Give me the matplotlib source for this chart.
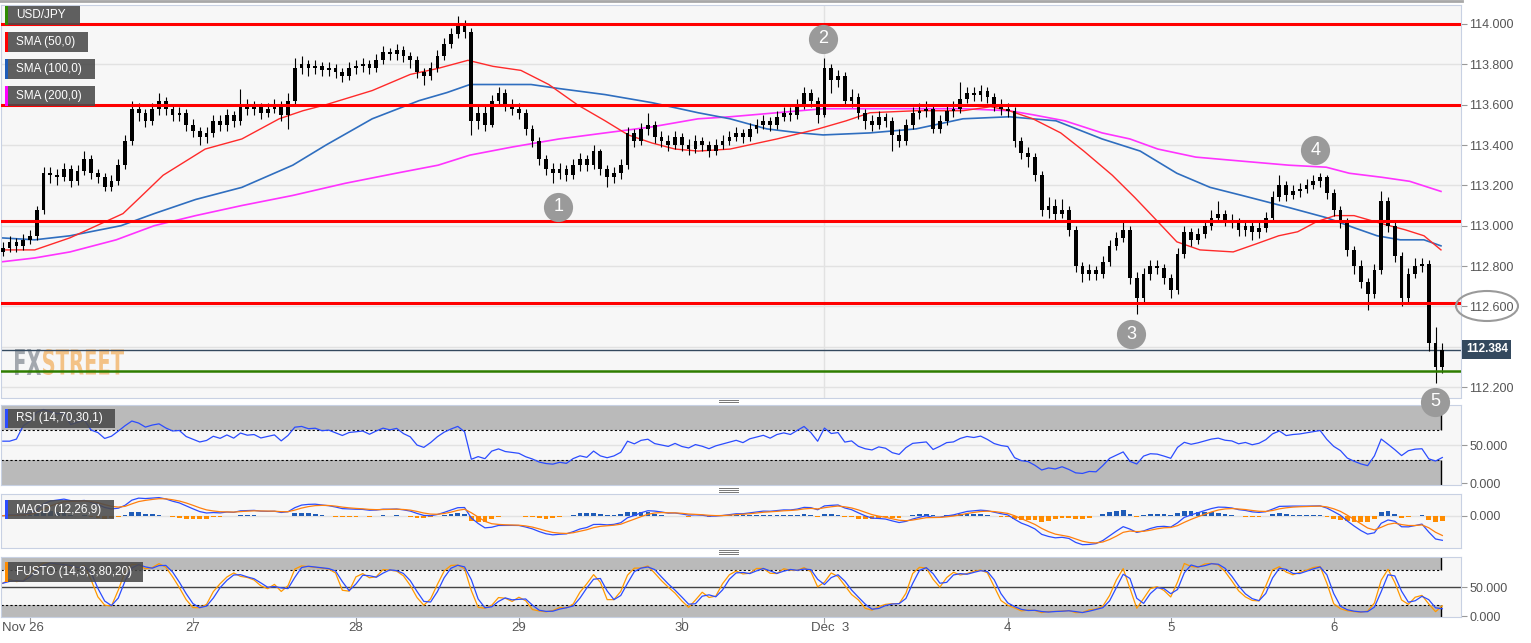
import matplotlib
matplotlib.use('Agg')
import matplotlib.pyplot as plt
import numpy as np
import pandas as pd
from matplotlib.patches import Rectangle, Ellipse, PathPatch
from matplotlib.textpath import TextPath
from matplotlib.font_manager import FontProperties
from matplotlib.transforms import Affine2D
from matplotlib.lines import Line2D

plt.rcParams['font.family'] = ['Liberation Sans', 'DejaVu Sans']

# hourly USD/JPY candles, Nov 25 20:00 -> Dec 6
first_open = 112.87
closes = [112.89, 112.92, 112.90, 112.93, 112.95, 113.08, 113.26, 113.25, 113.24, 113.28,
          113.22, 113.27, 113.33, 113.26, 113.24, 113.19, 113.22, 113.30, 113.42, 113.58,
          113.56, 113.52, 113.58, 113.62, 113.58, 113.55, 113.56, 113.50, 113.47, 113.44,
          113.46, 113.52, 113.50, 113.55, 113.52, 113.60, 113.58, 113.59, 113.56, 113.58,
          113.60, 113.55, 113.62, 113.78, 113.80, 113.78, 113.79, 113.77, 113.78, 113.76,
          113.74, 113.78, 113.79, 113.80, 113.78, 113.82, 113.86, 113.85, 113.87, 113.84,
          113.82, 113.76, 113.74, 113.78, 113.84, 113.90, 113.95, 114.00, 113.96, 113.52,
          113.56, 113.50, 113.62, 113.66, 113.60, 113.58, 113.56, 113.48, 113.42, 113.33,
          113.28, 113.26, 113.28, 113.25, 113.30, 113.33, 113.30, 113.37, 113.28, 113.24,
          113.26, 113.30, 113.46, 113.42, 113.48, 113.50, 113.44, 113.42, 113.40, 113.44,
          113.40, 113.38, 113.42, 113.40, 113.37, 113.40, 113.42, 113.44, 113.46, 113.44,
          113.48, 113.50, 113.52, 113.50, 113.54, 113.56, 113.55, 113.60, 113.66, 113.62,
          113.55, 113.78, 113.72, 113.74, 113.62, 113.64, 113.56, 113.52, 113.50, 113.54,
          113.52, 113.45, 113.42, 113.50, 113.56, 113.57, 113.58, 113.48, 113.52, 113.57,
          113.58, 113.63, 113.66, 113.65, 113.67, 113.64, 113.60, 113.58, 113.57, 113.42,
          113.36, 113.34, 113.25, 113.08, 113.10, 113.06, 113.08, 112.98, 112.80, 112.76,
          112.78, 112.76, 112.82, 112.90, 112.94, 112.98, 112.74, 112.64, 112.76, 112.80,
          112.79, 112.74, 112.68, 112.86, 112.97, 112.93, 112.96, 113.00, 113.04, 113.06,
          113.03, 113.02, 112.98, 113.00, 112.97, 112.99, 113.04, 113.14, 113.20, 113.15,
          113.17, 113.18, 113.20, 113.22, 113.24, 113.16, 113.08, 113.02, 112.88, 112.80,
          112.72, 112.66, 112.78, 113.12, 113.00, 112.85, 112.64, 112.76, 112.80, 112.81,
          112.42, 112.30, 112.384]
highs = [112.92, 112.95, 112.94, 112.96, 112.98, 113.10, 113.29, 113.29, 113.28, 113.31,
         113.30, 113.30, 113.37, 113.35, 113.28, 113.26, 113.25, 113.33, 113.45, 113.62,
         113.61, 113.58, 113.61, 113.66, 113.64, 113.60, 113.59, 113.58, 113.53, 113.49,
         113.49, 113.55, 113.55, 113.58, 113.57, 113.68, 113.63, 113.62, 113.61, 113.61,
         113.63, 113.62, 113.66, 113.83, 113.84, 113.82, 113.82, 113.81, 113.81, 113.80,
         113.78, 113.81, 113.82, 113.83, 113.82, 113.85, 113.89, 113.88, 113.90, 113.89,
         113.86, 113.84, 113.78, 113.81, 113.87, 113.93, 113.98, 114.04, 114.02, 113.98,
         113.60, 113.60, 113.65, 113.69, 113.68, 113.63, 113.61, 113.58, 113.50, 113.44,
         113.35, 113.31, 113.31, 113.30, 113.33, 113.36, 113.35, 113.40, 113.38, 113.30,
         113.29, 113.33, 113.49, 113.48, 113.51, 113.56, 113.52, 113.47, 113.45, 113.47,
         113.46, 113.43, 113.45, 113.44, 113.42, 113.43, 113.45, 113.47, 113.49, 113.48,
         113.51, 113.53, 113.55, 113.54, 113.57, 113.59, 113.59, 113.63, 113.69, 113.68,
         113.64, 113.83, 113.80, 113.77, 113.76, 113.68, 113.66, 113.58, 113.55, 113.57,
         113.56, 113.54, 113.48, 113.53, 113.59, 113.61, 113.62, 113.60, 113.55, 113.60,
         113.62, 113.71, 113.69, 113.69, 113.70, 113.69, 113.66, 113.63, 113.61, 113.59,
         113.44, 113.39, 113.36, 113.27, 113.14, 113.13, 113.13, 113.10, 113.00, 112.82,
         112.81, 112.80, 112.85, 112.93, 112.97, 113.02, 113.00, 112.77, 112.79, 112.83,
         112.83, 112.81, 112.76, 112.89, 113.00, 112.99, 112.99, 113.03, 113.08, 113.12,
         113.08, 113.06, 113.04, 113.03, 113.02, 113.02, 113.07, 113.17, 113.25, 113.22,
         113.20, 113.21, 113.23, 113.25, 113.26, 113.25, 113.18, 113.10, 113.04, 112.90,
         112.83, 112.74, 112.81, 113.17, 113.14, 113.02, 112.87, 112.79, 112.84, 112.84,
         112.83, 112.50, 112.42]
lows = [112.85, 112.87, 112.87, 112.88, 112.91, 112.93, 113.06, 113.21, 113.20, 113.22,
        113.19, 113.20, 113.25, 113.23, 113.21, 113.17, 113.17, 113.20, 113.28, 113.40,
        113.52, 113.49, 113.50, 113.55, 113.55, 113.52, 113.52, 113.47, 113.44, 113.40,
        113.41, 113.44, 113.47, 113.47, 113.49, 113.50, 113.55, 113.55, 113.53, 113.54,
        113.56, 113.52, 113.48, 113.60, 113.75, 113.74, 113.75, 113.74, 113.74, 113.73,
        113.71, 113.72, 113.75, 113.76, 113.75, 113.76, 113.80, 113.82, 113.82, 113.81,
        113.78, 113.73, 113.70, 113.72, 113.76, 113.82, 113.88, 113.93, 113.93, 113.45,
        113.48, 113.47, 113.49, 113.60, 113.57, 113.55, 113.53, 113.45, 113.39, 113.30,
        113.25, 113.21, 113.23, 113.22, 113.23, 113.27, 113.27, 113.28, 113.25, 113.19,
        113.21, 113.23, 113.28, 113.39, 113.40, 113.45, 113.41, 113.39, 113.37, 113.38,
        113.37, 113.35, 113.36, 113.37, 113.34, 113.35, 113.38, 113.40, 113.42, 113.41,
        113.42, 113.46, 113.48, 113.47, 113.48, 113.52, 113.52, 113.53, 113.58, 113.59,
        113.51, 113.54, 113.66, 113.69, 113.60, 113.59, 113.53, 113.48, 113.47, 113.48,
        113.49, 113.37, 113.39, 113.40, 113.48, 113.53, 113.54, 113.46, 113.46, 113.50,
        113.54, 113.56, 113.61, 113.62, 113.62, 113.61, 113.57, 113.55, 113.54, 113.39,
        113.33, 113.29, 113.22, 113.05, 113.04, 113.03, 113.04, 112.95, 112.77, 112.72,
        112.73, 112.73, 112.74, 112.80, 112.88, 112.92, 112.71, 112.56, 112.62, 112.73,
        112.76, 112.71, 112.64, 112.66, 112.84, 112.90, 112.91, 112.94, 112.98, 113.02,
        113.00, 112.99, 112.95, 112.95, 112.93, 112.94, 112.97, 113.02, 113.12, 113.12,
        113.13, 113.14, 113.16, 113.18, 113.19, 113.13, 113.05, 112.99, 112.85, 112.76,
        112.69, 112.58, 112.64, 112.76, 112.97, 112.82, 112.60, 112.62, 112.74, 112.77,
        112.38, 112.22, 112.27]

# moving averages (bar position, value)
sma50_t = [-0.4, 4.7, 9.9, 17.7, 20.2, 23.6, 29.8, 35.2, 40.7, 44.2, 47.6, 54.4, 60, 64.1,
           68.5, 72.2, 76.3, 80.4, 84.6, 88.7, 92.1, 95.6, 99, 102.4, 107.1, 114, 120.1,
           124.2, 127.7, 134.5, 141.4, 145.5, 148.2, 151.7, 155.8, 159.2, 163.4, 166.7,
           170.1, 172.9, 176.3, 181.2, 184.6, 187.9, 190.7, 193.5, 196.2, 199, 203.1, 206.5,
           209.3, 211.8]
sma50_v = [112.88, 112.88, 112.94, 113.06, 113.14, 113.25, 113.38, 113.43, 113.53, 113.57,
           113.60, 113.67, 113.75, 113.78, 113.82, 113.79, 113.77, 113.70, 113.60, 113.52,
           113.45, 113.41, 113.38, 113.37, 113.38, 113.43, 113.48, 113.52, 113.56, 113.57,
           113.57, 113.59, 113.57, 113.53, 113.46, 113.37, 113.25, 113.14, 113.02, 112.92,
           112.88, 112.87, 112.91, 112.95, 112.97, 113.02, 113.05, 113.05, 113.01, 112.98,
           112.95, 112.88]
sma100_t = [-0.4, 4.7, 9.9, 17.4, 22.3, 28.4, 35.2, 42.7, 47.6, 54.4, 61.3, 65.4, 68.8, 72.2,
            77.8, 81.9, 88.7, 95.6, 102.4, 107.1, 112.5, 117.4, 120.8, 127.7, 134.5, 141.4,
            148.2, 155.1, 161.9, 167.5, 172.9, 177.8, 182.5, 189.4, 194.9, 199, 202.4, 205.8,
            209.3, 211.8]
sma100_v = [112.94, 112.93, 112.95, 113.00, 113.06, 113.13, 113.19, 113.30, 113.40, 113.53,
            113.62, 113.66, 113.70, 113.70, 113.70, 113.68, 113.65, 113.61, 113.56, 113.53,
            113.48, 113.46, 113.45, 113.46, 113.48, 113.53, 113.54, 113.52, 113.43, 113.37,
            113.26, 113.19, 113.15, 113.09, 113.04, 112.99, 112.95, 112.93, 112.93, 112.90]
sma200_t = [-0.4, 4.7, 9.9, 16.7, 22.3, 28.4, 35.2, 42.7, 50.4, 57.9, 64.1, 68.8, 75, 81.9,
            88.7, 95.6, 102.4, 107.1, 114, 120.8, 127.7, 134.5, 141.4, 148.2, 151.7, 156.4,
            161.9, 166, 170.1, 175.7, 182.5, 189.4, 194.9, 198.3, 203.1, 207.2, 211.8]
sma200_v = [112.82, 112.84, 112.87, 112.93, 113.00, 113.05, 113.10, 113.15, 113.21, 113.26,
            113.30, 113.35, 113.39, 113.43, 113.46, 113.49, 113.53, 113.54, 113.56, 113.58,
            113.58, 113.58, 113.58, 113.57, 113.55, 113.52, 113.46, 113.43, 113.38, 113.34,
            113.32, 113.30, 113.29, 113.26, 113.24, 113.22, 113.17]

red_levels = [114.000, 113.600, 113.025, 112.615]
green_level = 112.279
last_price = 112.384

tick_bars = [4, 28, 52, 76, 100, 121, 148, 172, 196]
tick_labels = ['Nov 26', '27', '28', '29', '30', 'Dec  3', '4', '5', '6']

marks = ['1', '2', '3', '4', '5']
mark_bars = [81.8, 120.8, 166.2, 193.3, 210.9]
mark_prices = [113.093, 113.926, 112.463, 113.375, 112.126]

# ---------------------------------------------------------------
W, H = 1531, 643
fig = plt.figure(figsize=(W / 100, H / 100), dpi=100)
fig.patch.set_facecolor('white')

XL, XR = -0.27, 214.75
n = len(closes)
bars = np.arange(n)
opens = np.array([first_open] + closes[:-1])
c = np.array(closes)
hi = np.array(highs)
lo = np.array(lows)
last_bar = bars[-1] - 0.2

PANEL = '#f7f7f7'
EDGE = '#c8d1e3'
GRID = '#e2e2e2'
TXT = '#555555'


def px_axes(x0, y0, x1, y1):
    a = fig.add_axes([x0 / W, 1 - y1 / H, (x1 - x0) / W, (y1 - y0) / H])
    a.set_facecolor(PANEL)
    for s in a.spines.values():
        s.set_color(EDGE)
    a.set_xlim(XL, XR)
    a.yaxis.tick_right()
    a.tick_params(axis='y', length=4, color='#999999', labelcolor=TXT, labelsize=9, pad=2)
    a.tick_params(axis='x', bottom=False, labelbottom=False)
    return a


# main price panel
ax = px_axes(1, 5, 1461, 397.5)
ax.set_zorder(5)
ax.set_ylim(112.1482, 114.0942)
yt = np.round(np.arange(112.2, 114.01, 0.2), 1)
ax.set_yticks(yt)
# the 112.400 label sits under the live price box
ax.set_yticklabels(['' if abs(v - 112.4) < 1e-6 else '%.3f' % v for v in yt])
for v in yt:
    ax.axhline(v, color=GRID, lw=1, zorder=0)
ax.axvline(121, color=GRID, lw=1, zorder=0)

# watermark
def stretched_text(a, s, x0, x1, ytop, ybot, color):
    fp = FontProperties(family='DejaVu Sans', weight='bold')
    tp = TextPath((0, 0), s, size=100, prop=fp)
    ext = tp.get_extents()
    tr = Affine2D().translate(-ext.x0, -ext.y0).scale((x1 - x0) / ext.width,
                                                       (ybot - ytop) / ext.height)
    tr = tr.translate(x0, H - ybot)
    a.add_patch(PathPatch(tp, transform=tr, fc=color, ec='none', alpha=0.8, zorder=0.5))


stretched_text(ax, 'FX', 15, 41, 349, 375, '#8e949c')
stretched_text(ax, 'STREET', 43, 124, 349, 375, '#f3b56a')

# candles
ax.vlines(bars, lo, hi, color='black', lw=0.8, zorder=3)
body_lo = np.minimum(opens, c)
body_h = np.maximum(np.abs(c - opens), 0.006)
ax.bar(bars, body_h, bottom=body_lo, width=0.55, color='black', zorder=3)

ax.plot(sma200_t, sma200_v, color='#ff33ff', lw=1.2, zorder=2)
ax.plot(sma100_t, sma100_v, color='#2f6ebf', lw=1.2, zorder=2)
ax.plot(sma50_t, sma50_v, color='#ff2a2a', lw=1.0, zorder=2)

for lv in red_levels:
    ax.axhline(lv, color='#ff0000', lw=2.2, zorder=4)
ax.axhline(green_level, color='#2e7d00', lw=1.8, zorder=4)
ax.axhline(last_price, color='#34495e', lw=1.0, zorder=1)

for m, b, p in zip(marks, mark_bars, mark_prices):
    ax.plot(b, p, 'o', ms=21, color='#9a9a9a', mec='none', zorder=7, clip_on=False)
    ax.text(b, p, m, color='white', fontsize=13, ha='center', va='center', zorder=8,
            clip_on=False)

# indicators computed from the closes (hourly bars)
cs = pd.Series(c)
delta = cs.diff().fillna(0)
up = delta.clip(lower=0).ewm(alpha=1 / 11, adjust=False).mean()
dn = (-delta.clip(upper=0)).ewm(alpha=1 / 11, adjust=False).mean()
rsi = (100 - 100 / (1 + up / dn.replace(0, np.nan))).fillna(55)

ema_f = cs.ewm(span=6, adjust=False).mean()
ema_s = cs.ewm(span=13, adjust=False).mean()
macd = ema_f - ema_s
signal = macd.ewm(span=4, adjust=False).mean()
hist = macd - signal

hh = pd.Series(hi).rolling(7, min_periods=1).max()
ll = pd.Series(lo).rolling(7, min_periods=1).min()
kraw = 100 * (cs - ll) / (hh - ll)
kline = kraw.rolling(2, min_periods=1).mean()
dline = kline.rolling(2, min_periods=1).mean()

# RSI panel
ar = px_axes(1, 404.7, 1461, 485)
ar.set_ylim(-2.2, 102.6)
ar.set_yticks([0, 50])
ar.set_yticklabels(['0.000', '50.000'])
ar.axhline(50, color=GRID, lw=1, zorder=0)
ar.fill_between([XL, last_bar], 70, 103, color='#bababa', lw=0, zorder=1)
ar.fill_between([XL, last_bar], -3, 30, color='#bababa', lw=0, zorder=1)
for lv in (70, 30):
    ar.plot([XL, last_bar], [lv, lv], color='black', lw=0.8, ls=(0, (2, 2)), zorder=2)
ar.vlines(last_bar, 70, 103, color='black', lw=1, zorder=2)
ar.vlines(last_bar, -3, 30, color='black', lw=1, zorder=2)
ar.plot(bars, rsi, color='#2b4cff', lw=0.9, zorder=3)

# MACD panel
am = px_axes(1, 494.3, 1461, 547.7)
s = abs(macd.min()) / 29.0
am.set_ylim(-32.0 * s, 21.4 * s)
am.set_yticks([0])
am.set_yticklabels(['0.000'])
am.axhline(0, color=GRID, lw=1, zorder=0)
am.bar(bars, hist, width=0.7, color=np.where(hist >= 0, '#1f5cb8', '#ff8c00'), zorder=2)
am.plot(bars, macd, color='#2b4cff', lw=0.9, zorder=3)
am.plot(bars, signal, color='#ff7f0e', lw=0.9, zorder=3)

# FUSTO panel
af = px_axes(1, 557.3, 1461, 617)
af.set_ylim(-1.7, 102.3)
af.set_yticks([0, 50])
af.set_yticklabels(['0.000', '50.000'])
af.fill_between([XL, last_bar], 80, 103, color='#bababa', lw=0, zorder=1)
af.fill_between([XL, last_bar], -2, 20, color='#bababa', lw=0, zorder=1)
for lv in (80, 20):
    af.plot([XL, last_bar], [lv, lv], color='black', lw=0.8, ls=(0, (2, 2)), zorder=2)
af.vlines(last_bar, 80, 103, color='black', lw=1, zorder=2)
af.vlines(last_bar, -2, 20, color='black', lw=1, zorder=2)
af.axhline(50, color='#444444', lw=1, zorder=2)
af.plot(bars, kline, color='#ff9900', lw=0.9, zorder=3)
af.plot(bars, dline, color='#2b4cff', lw=0.9, zorder=3)
af.set_xticks(tick_bars)
af.tick_params(axis='x', bottom=True, length=4, color='#999999', labelbottom=False)
for tb, tl in zip(tick_bars, tick_labels):
    if tl.startswith('Nov'):
        af.text(XL + 0.15, -20, tl, ha='left', va='center', color=TXT, fontsize=9.5,
                clip_on=False)
    elif tl.startswith('Dec'):
        af.text(tb + 0.9, -20, tl, ha='center', va='center', color=TXT, fontsize=9.5,
                clip_on=False)
    else:
        af.text(tb, -20, tl, ha='center', va='center', color=TXT, fontsize=9.5,
                clip_on=False)


# legend boxes
def tag(x1, y0, y1, text, col):
    fig.add_artist(Rectangle((5 / W, 1 - y1 / H), (x1 - 5) / W, (y1 - y0) / H,
                             transform=fig.transFigure, fc='#4a4a4a', ec='none',
                             alpha=0.88, zorder=20))
    fig.add_artist(Rectangle((5 / W, 1 - y1 / H), 2.5 / W, (y1 - y0) / H,
                             transform=fig.transFigure, fc=col, ec='none', zorder=21))
    fig.text(16 / W, 1 - (y0 + y1) / 2 / H, text, color='white', fontsize=8.5,
             ha='left', va='center', zorder=22)


tag(80, 6, 25, 'USD/JPY', '#2e8b00')
tag(88, 32, 52, 'SMA (50,0)', '#ff0000')
tag(95, 59, 79, 'SMA (100,0)', '#1f5cb8')
tag(95, 86, 106, 'SMA (200,0)', '#ff00ff')
tag(115, 409, 428, 'RSI (14,70,30,1)', '#2b4cff')
tag(114, 500, 519, 'MACD (12,26,9)', '#2b4cff')
tag(143, 562, 582, 'FUSTO (14,3,3,80,20)', '#ff8c00')

# current price box and circled level
fig.text(1466 / W, 1 - 349.5 / H, '%.3f' % last_price, color='white', fontsize=8.5,
         fontweight='bold', ha='left', va='center',
         bbox=dict(boxstyle='square,pad=0.3', fc='#34495e', ec='none'), zorder=20)
fig.add_artist(Ellipse((1487 / W, 1 - 306 / H), 62 / W, 30 / H, transform=fig.transFigure,
                       fill=False, ec='#9a9a9a', lw=1.5, zorder=20))

# panel separators and top border
for yc in (400, 490, 552):
    for dy in (-2, 0, 2):
        fig.add_artist(Line2D([719 / W, 738 / W], [1 - (yc + dy) / H] * 2,
                              transform=fig.transFigure, color='#777777', lw=0.7))
fig.add_artist(Line2D([0, 1462 / W], [1 - 1 / H] * 2, transform=fig.transFigure,
                      color='#a8a8a8', lw=2))

fig.savefig('out.png', dpi=100, facecolor='white')
